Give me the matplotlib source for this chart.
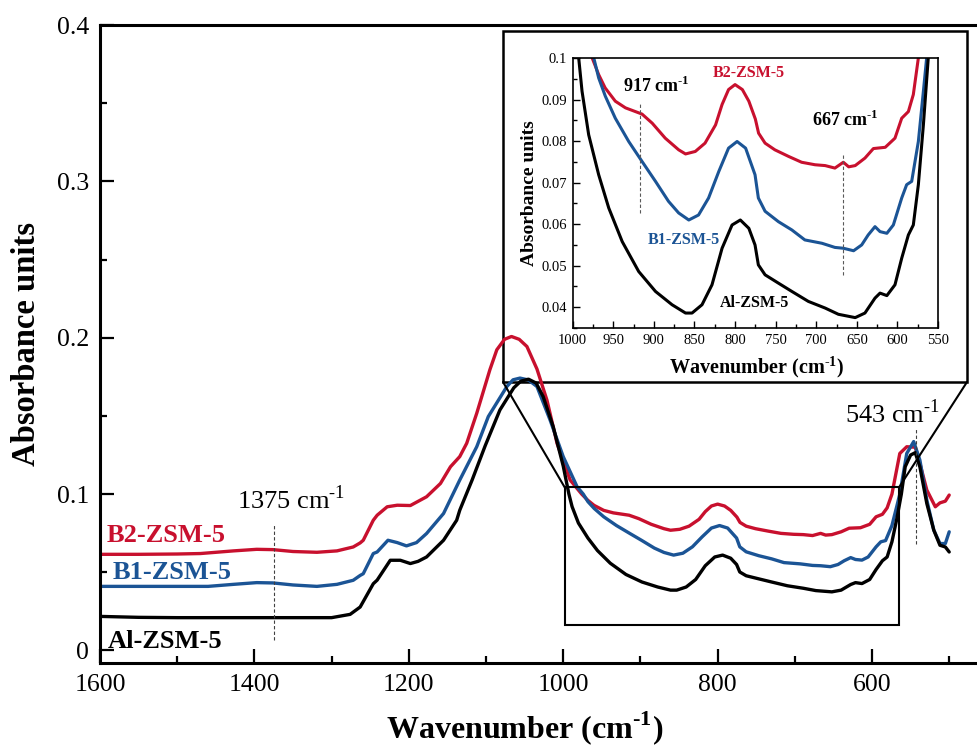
import numpy as np
import matplotlib.pyplot as plt
from matplotlib.patches import Rectangle, ConnectionPatch
from matplotlib.ticker import MultipleLocator, FuncFormatter

plt.rcParams['font.family'] = 'Liberation Serif'
plt.rcParams['mathtext.fontset'] = 'custom'
plt.rcParams['mathtext.rm'] = 'Liberation Serif'
plt.rcParams['mathtext.bf'] = 'Liberation Serif:bold'

RED = '#C8102E'
BLUE = '#1B5495'

# B2-ZSM-5 spectrum
b2_wn = [1600, 1550, 1500, 1470, 1427, 1397, 1376, 1350, 1319, 1293, 1272, 1263,
         1259, 1246, 1241, 1228, 1215, 1198, 1177, 1159, 1146, 1134, 1125, 1112,
         1095, 1086, 1076, 1067, 1057, 1047, 1034, 1021, 1008, 991, 976, 968, 960,
         947.5, 935, 914.6, 902, 886, 869.5, 861, 849, 837, 824, 816, 808, 800, 791,
         783, 775, 771, 763, 751, 734, 718, 701.5, 689, 677, 666.6, 660, 652, 640,
         629.6, 615, 603, 594.7, 586.5, 580.4, 574.2, 564, 555, 544, 538, 529, 518,
         512, 505, 500]
b2_abs = [0.0615, 0.0615, 0.0617, 0.0620, 0.0637, 0.0647, 0.0645, 0.0633, 0.0628,
          0.0637, 0.0662, 0.0688, 0.0705, 0.0833, 0.0865, 0.0919, 0.0929, 0.0927,
          0.0983, 0.1068, 0.1175, 0.1240, 0.1325, 0.1517, 0.1795, 0.1923, 0.1990,
          0.2008, 0.1990, 0.1944, 0.1800, 0.1600, 0.1325, 0.1090, 0.1000, 0.0960,
          0.0928, 0.0896, 0.0880, 0.0865, 0.0843, 0.0807, 0.0779, 0.0769, 0.0775,
          0.0795, 0.0839, 0.0888, 0.0924, 0.0936, 0.0924, 0.0896, 0.0853, 0.0819,
          0.0795, 0.0779, 0.0763, 0.0749, 0.0743, 0.0741, 0.0735, 0.0749, 0.0738,
          0.0741, 0.0759, 0.0782, 0.0785, 0.0807, 0.0855, 0.0871, 0.0912, 0.1000,
          0.1260, 0.1303, 0.1300, 0.1197, 0.1026, 0.0919, 0.0944, 0.0955, 0.0994]

# B1-ZSM-5 spectrum
b1_wn = [1600, 1500, 1460, 1427, 1397, 1376, 1350, 1319, 1293, 1272, 1263, 1259,
         1246, 1241, 1227, 1215, 1203, 1190, 1177, 1155, 1134, 1112, 1097, 1073,
         1065, 1056, 1045, 1034, 1017, 1000, 982, 974, 968, 959.8, 947.5, 931,
         914.6, 898, 882, 869.5, 857, 845, 832.6, 820, 808, 797.5, 787, 775.4, 771.3,
         763, 746.6, 730, 714, 693, 677, 666.6, 654, 644, 636, 627.6, 621.4, 613,
         605, 594.7, 588.6, 582.4, 574.2, 568, 564, 555, 546, 538, 529, 520, 512,
         505, 500]
b1_abs = [0.0410, 0.0410, 0.0410, 0.0423, 0.0434, 0.0432, 0.0419, 0.0410, 0.0423,
          0.0449, 0.0480, 0.0491, 0.0620, 0.0630, 0.0705, 0.0690, 0.0669, 0.0690,
          0.0748, 0.0876, 0.1090, 0.1303, 0.1496, 0.1688, 0.1731, 0.1742, 0.1730,
          0.1688, 0.1474, 0.1240, 0.1047, 0.1000, 0.0952, 0.0908, 0.0855, 0.0799,
          0.0751, 0.0703, 0.0655, 0.0627, 0.0610, 0.0622, 0.0663, 0.0727, 0.0783,
          0.0799, 0.0783, 0.0719, 0.0663, 0.0631, 0.0606, 0.0586, 0.0562, 0.0554,
          0.0544, 0.0542, 0.0536, 0.0550, 0.0574, 0.0594, 0.0582, 0.0578, 0.0598,
          0.0663, 0.0695, 0.0703, 0.0799, 0.0920, 0.1000, 0.1260, 0.1336, 0.1218,
          0.0962, 0.0770, 0.0684, 0.0684, 0.0759]

# Al-ZSM-5 spectrum
al_wn = [1600, 1550, 1500, 1400, 1300, 1276, 1263, 1246, 1241, 1224, 1211, 1198,
         1188, 1177, 1155, 1138, 1134, 1118, 1101, 1082, 1064, 1055, 1045, 1035,
         1026, 1013, 1000, 992.6, 988.5, 980.3, 968, 955.6, 939, 918.7, 898, 877.6,
         861, 853, 840.7, 828.4, 816, 803.7, 793.5, 783, 775.4, 771.3, 763, 746.6,
         730, 709.7, 689, 672.7, 652, 640, 627.6, 621.4, 613, 603, 594.7, 586.5,
         580.4, 574.2, 568, 562, 557, 550, 544, 538, 529, 520, 512, 505, 500]
al_abs = [0.0218, 0.0212, 0.0210, 0.0210, 0.0210, 0.0231, 0.0278, 0.0427, 0.0450,
          0.0577, 0.0577, 0.0556, 0.0570, 0.0598, 0.0705, 0.0833, 0.0897, 0.1090,
          0.1310, 0.1538, 0.1680, 0.1722, 0.1735, 0.1710, 0.1624, 0.1432, 0.1180,
          0.1000, 0.0920, 0.0815, 0.0719, 0.0639, 0.0558, 0.0486, 0.0438, 0.0406,
          0.0386, 0.0386, 0.0406, 0.0454, 0.0542, 0.0598, 0.0610, 0.0590, 0.0550,
          0.0502, 0.0478, 0.0458, 0.0438, 0.0414, 0.0398, 0.0383, 0.0375, 0.0386,
          0.0422, 0.0434, 0.0428, 0.0454, 0.0518, 0.0574, 0.0598, 0.0695, 0.0839,
          0.1000, 0.1175, 0.1250, 0.1265, 0.1175, 0.0940, 0.0770, 0.0673, 0.0662,
          0.0630]

series = [('B2-ZSM-5', b2_wn, b2_abs, RED),
          ('B1-ZSM-5', b1_wn, b1_abs, BLUE),
          ('Al-ZSM-5', al_wn, al_abs, 'black')]

# band markers: (wavenumber, y bottom, y top)
main_bands = [(1375, 0.0064, 0.080), (543, 0.068, 0.1417)]
inset_bands = [(917, 0.0627, 0.0894), (667, 0.0477, 0.0771)]

SUP = '$^{\\mathregular{\u2010}1}$'
SUP_BF = '$^{\\mathbf{\u20101}}$'

fmt = FuncFormatter(lambda v, p: f'{v:g}')

fig = plt.figure(figsize=(9.77, 7.45), dpi=100)
fig.patch.set_facecolor('white')

# main axes
ax = fig.add_axes([100/977, 82/745, 877/977, 638/745])
ax.patch.set_visible(False)
for name, wn, ab, c in series:
    ax.plot(wn, ab, color=c, lw=2.4, solid_joinstyle='round', solid_capstyle='round')
ax.set_xlim(1600, 464)
ax.set_ylim(-0.008, 0.4)
ax.xaxis.set_major_locator(MultipleLocator(200))
ax.xaxis.set_minor_locator(MultipleLocator(100))
ax.yaxis.set_major_locator(MultipleLocator(0.1))
ax.yaxis.set_minor_locator(MultipleLocator(0.05))
ax.yaxis.set_major_formatter(fmt)
ax.tick_params(which='both', direction='in', width=1.6, labelsize=18.5)
ax.tick_params(which='major', length=10, pad=8)
ax.tick_params(which='minor', length=5)
ax.spines['right'].set_visible(False)
for s in ['left', 'top', 'bottom']:
    ax.spines[s].set_linewidth(2.2)
ax.set_xlabel('Wavenumber (cm' + SUP_BF + ')', fontsize=23, fontweight='bold')
ax.set_ylabel('Absorbance units', fontsize=23.5, fontweight='bold')
ax.xaxis.set_label_coords(0.4846, -0.072)
ax.yaxis.set_label_coords(-0.066, 0.5)

ax.text(1591, 0.0737, 'B2-ZSM-5', color=RED, fontsize=19, fontweight='bold', va='center')
ax.text(1583, 0.0500, 'B1-ZSM-5', color=BLUE, fontsize=19, fontweight='bold', va='center')
ax.text(1590, 0.0058, 'Al-ZSM-5', color='black', fontsize=19, fontweight='bold', va='center')
ax.text(1423, 0.0904, '1375 cm' + SUP, fontsize=19, va='baseline')
ax.text(635, 0.1455, '543 cm' + SUP, fontsize=19, va='baseline')
for w, y0, y1 in main_bands:
    ax.plot([w, w], [y0, y1], ls=(0, (3, 2)), lw=0.8, color='0.25')

# zoomed region box
ax.add_patch(Rectangle((565, 0.016), 998 - 565, 0.1043 - 0.016,
                       fill=False, ec='black', lw=1.5, zorder=4))

# frame around the inset, drawn underneath the main curves
fx0, fy0, fw, fh = 503/977, 363/745, 464/977, 351/745
frame = Rectangle((fx0, fy0), fw, fh, transform=fig.transFigure,
                  fill=False, ec='black', lw=1.8, zorder=-1)
fig.add_artist(frame)

for xa, xb in [(fx0, 998), (fx0 + fw, 565)]:
    con = ConnectionPatch(xyA=(xa, fy0), coordsA=fig.transFigure,
                          xyB=(xb, 0.1043), coordsB=ax.transData,
                          color='black', lw=1.5)
    fig.add_artist(con)

# inset axes
ins = fig.add_axes([572.7/977, 417/745, 365.3/977, 270/745])
for name, wn, ab, c in series:
    ins.plot(wn, ab, color=c, lw=2.2, solid_joinstyle='round')
ins.set_xlim(1000, 550)
ins.set_ylim(0.035, 0.1)
ins.xaxis.set_major_locator(MultipleLocator(50))
ins.xaxis.set_minor_locator(MultipleLocator(25))
ins.yaxis.set_major_locator(MultipleLocator(0.01))
ins.yaxis.set_minor_locator(MultipleLocator(0.005))
ins.yaxis.set_major_formatter(fmt)
ins.tick_params(which='both', direction='in', width=1.0, labelsize=10.5, pad=4)
ins.tick_params(which='major', length=5)
ins.tick_params(which='minor', length=3)
for s in ins.spines.values():
    s.set_linewidth(1.2)
ins.set_xlabel('Wavenumber (cm' + SUP_BF + ')', fontsize=14.5, fontweight='bold')
ins.set_ylabel('Absorbance units', fontsize=14, fontweight='bold')
ins.xaxis.set_label_coords(0.502, -0.095)
ins.yaxis.set_label_coords(-0.095, 0.5)

ins.text(827, 0.0964, 'B2-ZSM-5', color=RED, fontsize=11.5, fontweight='bold', va='center')
ins.text(907, 0.0561, 'B1-ZSM-5', color=BLUE, fontsize=11.5, fontweight='bold', va='center')
ins.text(818.6, 0.0410, 'Al-ZSM-5', color='black', fontsize=11.5, fontweight='bold', va='center')
ins.text(938, 0.0918, '917 cm' + SUP_BF, fontsize=13, fontweight='bold', va='baseline')
ins.text(705, 0.0836, '667 cm' + SUP_BF, fontsize=13, fontweight='bold', va='baseline')
for w, y0, y1 in inset_bands:
    ins.plot([w, w], [y0, y1], ls=(0, (3, 2)), lw=0.8, color='0.35')

fig.savefig('out.png', dpi=100)
